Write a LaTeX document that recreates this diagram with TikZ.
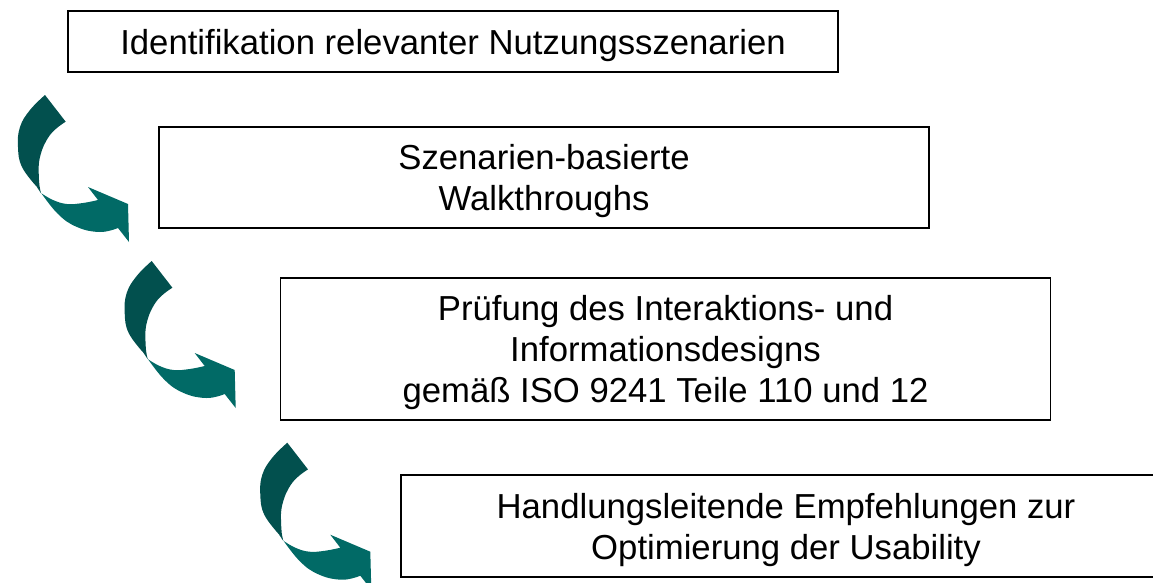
\documentclass[tikz,border=0pt]{standalone}
\usepackage{fontspec}
\setmainfont{Liberation Sans}
\usepackage{xcolor}
\definecolor{ArrowDark}{HTML}{02504E}
\definecolor{ArrowLight}{HTML}{016A66}
\usetikzlibrary{calc}
\tikzset{
  % Box styles
  stepbox/.style={rectangle, draw=black, line width=1.5pt, fill=white, minimum width=770pt, align=center, inner sep=0pt, text depth=0pt, font=\fontsize{34.7}{41}\selectfont},
  % Arrow shape
  bendarrow/.pic={
    \fill[ArrowLight] plot[smooth, tension=0.7] coordinates {(-8,92) (12,118) (32,132) (55,137) (73,133)}
      -- (84,147) -- (83,109) -- (43,92)
      -- plot[smooth, tension=0.7] coordinates {(53,105) (38,108) (22,109) (8,105) (-4,98)} -- cycle;
    \fill[ArrowDark] plot[smooth, tension=0.7] coordinates {(0,0) (-15,15) (-25,32) (-27,52) (-23,72) (-8,92)}
      -- plot[smooth, tension=0.7] coordinates {(-4,98) (-6,85) (-5,62) (5,40) (20.7,26.7)} -- cycle;
  }
}
\begin{document}
\begin{tikzpicture}[x=1pt, y=-1pt]
  \useasboundingbox (0,0) rectangle (1153,582);
  % Steps
  \node[stepbox, minimum height=61pt] (ident) at (453,41.5) {Identifikation relevanter Nutzungsszenarien};
  \node[stepbox, minimum height=101pt] (walk) at (544,177.5) {Szenarien-basierte\\Walkthroughs};
  \node[stepbox, minimum height=142pt] (pruef) at (665.5,349) {Prüfung des Interaktions- und\\Informationsdesigns\\gemäß ISO 9241 Teile 110 und 12};
  \node[stepbox, minimum height=102pt] (empf) at (786,526) {Handlungsleitende Empfehlungen zur\\Optimierung der Usability};
  % Arrows
  \pic at (45,95) {bendarrow};
  \pic at (151.7,261) {bendarrow};
  \pic at (287.3,442.7) {bendarrow};
\end{tikzpicture}
\end{document}
